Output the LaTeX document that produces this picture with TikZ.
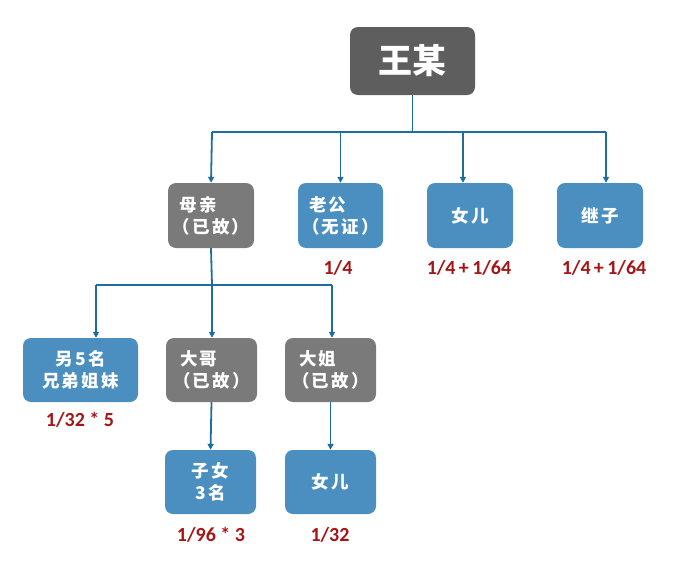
\documentclass[tikz,border=0pt]{standalone}
\usepackage{fontspec}
\usetikzlibrary{arrows.meta,calc}
\newfontfamily\cjk[LetterSpace=13]{Noto Sans CJK SC}
\newfontfamily\cjktop[LetterSpace=2]{Noto Sans CJK SC}
\newfontfamily\numfont{Carlito}
\definecolor{boxblue}{HTML}{4A8FC0}
\definecolor{boxgray}{HTML}{7A7A7A}
\definecolor{topgray}{HTML}{5E5E5E}
\definecolor{linecol}{HTML}{1D6E9C}
\definecolor{labred}{HTML}{A51515}
\begin{document}
\begin{tikzpicture}[x=1pt,y=-1pt,
  box/.style={rounded corners=8pt, minimum height=65pt, inner sep=0pt, text=white,
     font=\cjk\bfseries\fontsize{17.5}{22}\selectfont},
  bluebox/.style={box, fill=boxblue},
  graybox/.style={box, fill=boxgray},
  lab/.style={text=labred, font=\numfont\bfseries\fontsize{20}{22}\selectfont, inner sep=0pt},
  conn/.style={draw=linecol, line width=1.8pt},
  arr/.style={conn, -{Triangle[length=6pt,width=6pt]}}
]
\useasboundingbox (0,0) rectangle (700,560);
% top
\node[box, fill=topgray, minimum width=125pt, minimum height=68pt,
      font=\cjktop\bfseries\fontsize{34}{40}\selectfont] (top) at (412.5,61) {王某};
% level 2
\node[graybox, minimum width=86pt, align=left] (mom) at (211,215.5) {\hspace{0.4em}母亲\\（已故）};
\node[bluebox, minimum width=85pt, align=left] (hus) at (340.5,215.5) {\hspace{0.4em}老公\\（无证）};
\node[bluebox, minimum width=86pt] (dau) at (470,215.5) {女儿};
\node[bluebox, minimum width=86pt] (step) at (600,215.5) {继子};
% level 3
\node[bluebox, minimum width=115pt, minimum height=64pt, align=center] (sib) at (80.5,370) {另5名\\兄弟姐妹};
\node[graybox, minimum width=91pt, minimum height=64pt, align=left] (bro) at (211.5,370) {\hspace{0.4em}大哥\\（已故）};
\node[graybox, minimum width=91pt, minimum height=64pt, align=left] (sis) at (330.5,370) {\hspace{0.4em}大姐\\（已故）};
% level 4
\node[bluebox, minimum width=91pt, minimum height=64pt, align=center] (kids) at (210.5,482) {子女\\3名};
\node[bluebox, minimum width=91pt, minimum height=64pt] (niece) at (330.5,482) {女儿};
% labels
\node[lab] (lhus) at (338,268) {1/4};
\node[lab] (ldau) at (469,268) {1/4\,+\,1/64};
\node[lab] (lstep) at (604,268) {1/4\,+\,1/64};
\node[lab] (lsib) at (80,420) {1/32 * 5};
\node[lab] (lkids) at (211,535) {1/96 * 3};
\node[lab] (lniece) at (330,535) {1/32};
% connectors level 1 -> 2
\coordinate (bus1) at (412.5,132);
\coordinate (b1l) at (212,132);
\coordinate (b1r) at (606,132);
\draw[conn] (top.south) -- (bus1);
\draw[conn] (b1l) -- (b1r);
\draw[arr] (b1l) -- (mom.north);
\draw[arr] (bus1 -| hus.north) -- (hus.north);
\draw[arr] ($(bus1 -| dau.north)+(-7,0)$) -- ($(dau.north)+(-7,0)$);
\draw[arr] (b1r) -- (b1r |- step.north);
% connectors level 2 -> 3
\coordinate (bus2) at (212,285);
\coordinate (b2l) at (96,285);
\coordinate (b2r) at (332,285);
\draw[conn] (mom.south) -- (bus2);
\draw[conn] (b2l) -- (b2r);
\draw[arr] (b2l) -- (b2l |- sib.north);
\draw[arr] (bus2) -- (bus2 |- bro.north);
\draw[arr] (b2r) -- (b2r |- sis.north);
% level 3 -> 4
\draw[arr] (bro.south) -- (kids.north);
\draw[arr] (sis.south) -- (niece.north);
\end{tikzpicture}
\end{document}
